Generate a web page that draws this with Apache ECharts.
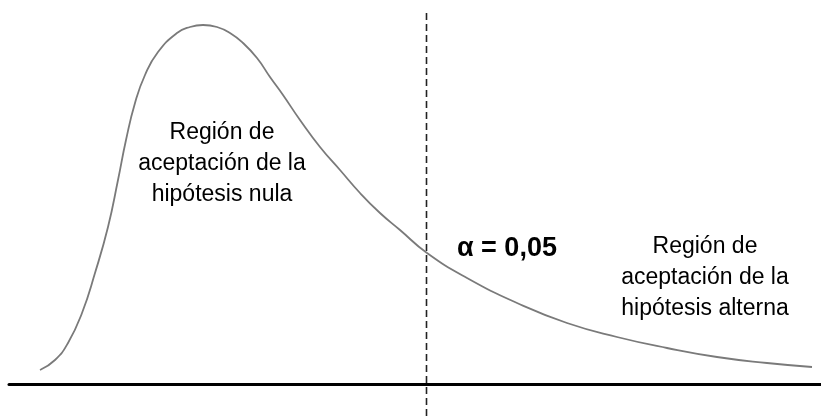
<!DOCTYPE html>
<html>
<head>
<meta charset="utf-8">
<script src="https://cdn.jsdelivr.net/npm/echarts@6/dist/echarts.min.js"></script>
<style>
html,body{margin:0;padding:0;background:#fff;}
#chart{width:821px;height:416px;}
</style>
</head>
<body>
<div id="chart"></div>
<script>
// Curve of the test statistic distribution (x in arbitrary units, y density)
const curveX = [0.31, 0.46, 0.59, 0.73, 0.86, 0.99, 1.09, 1.17, 1.26, 1.36, 1.49, 1.68, 1.81, 1.94, 2.08, 2.21, 2.34, 2.48, 2.61, 2.74, 2.91, 3.11, 3.31, 3.51, 3.71, 3.91, 4.18, 4.58, 5.08, 5.58, 6.08, 6.58, 7.08, 7.58, 8.03];
const curveY = [0.035, 0.06, 0.1025, 0.1775, 0.2775, 0.3925, 0.51, 0.61, 0.7025, 0.7725, 0.83, 0.8775, 0.8925, 0.8975, 0.8925, 0.8775, 0.8525, 0.815, 0.7675, 0.7225, 0.66, 0.5925, 0.535, 0.4775, 0.4275, 0.385, 0.3275, 0.265, 0.2025, 0.1525, 0.1175, 0.09, 0.0675, 0.0525, 0.0425];
const criticalX = 4.175;
const dashedY = [-0.08, 0.9275];
const leftLabel = 'Región de\naceptación de la\nhipótesis nula';
const rightLabel = 'Región de\naceptación de la\nhipótesis alterna';
const alphaLabel = 'α = 0,05';

const chart = echarts.init(document.getElementById('chart'));
const font = '"Liberation Sans", Arial, sans-serif';
chart.setOption({
  animation: false,
  grid: {left: 9, right: 0, top: 0, bottom: 0},
  xAxis: {
    type: 'value', min: 0, max: 8.12,
    axisLine: {show: true, onZero: true, lineStyle: {color: '#000', width: 3}},
    axisTick: {show: false}, axisLabel: {show: false}, splitLine: {show: false}
  },
  yAxis: {
    type: 'value', min: -0.08, max: 0.96,
    axisLine: {show: false}, axisTick: {show: false}, axisLabel: {show: false}, splitLine: {show: false}
  },
  series: [
    {
      type: 'line', smooth: 0.5, symbol: 'none',
      data: curveX.map((x, i) => [x, curveY[i]]),
      lineStyle: {color: '#7a7a7a', width: 1.8}
    },
    {
      type: 'line', symbol: 'none',
      data: dashedY.map(y => [criticalX, y]),
      lineStyle: {color: '#222', width: 1.6, type: [7, 4]}
    }
  ],
  graphic: [
    {type: 'text', x: 222, y: 164, style: {text: leftLabel, font: '23px ' + font, fill: '#000', align: 'center', verticalAlign: 'middle', lineHeight: 31}},
    {type: 'text', x: 705, y: 278, style: {text: rightLabel, font: '23px ' + font, fill: '#000', align: 'center', verticalAlign: 'middle', lineHeight: 31}},
    {type: 'text', x: 457, y: 249, style: {text: alphaLabel, font: 'bold 27px ' + font, fill: '#000', align: 'left', verticalAlign: 'middle'}}
  ]
});
</script>
</body>
</html>
